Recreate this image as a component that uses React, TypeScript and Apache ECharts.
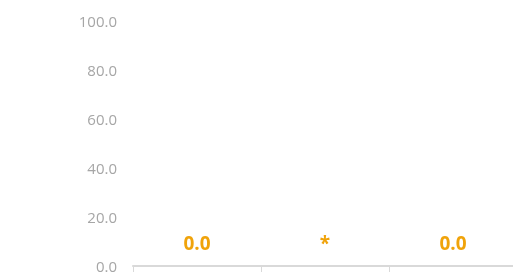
import React, { useEffect, useRef } from "react";
import * as echarts from "echarts";

const categories = ["A", "B", "C"];
const values: (number | null)[] = [0, null, 0];
const yTicks = { min: 0, max: 100, interval: 20 };
const missingLabel = "*";

export default function App() {
  const ref = useRef<HTMLDivElement>(null);
  useEffect(() => {
    if (!ref.current) return;
    const chart = echarts.init(ref.current, null, { renderer: "svg" });
    const labelStyle = {
      show: true,
      position: "top" as const,
      distance: 14,
      color: "#F0A30A",
      fontWeight: "bold" as const,
      fontSize: 19,
      fontFamily: "Open Sans",
    };
    chart.setOption({
      animation: false,
      grid: { left: 133, top: 21, width: 384, height: 245 },
      xAxis: {
        type: "category",
        data: categories,
        axisLine: { show: true, lineStyle: { color: "#d9d9d9", width: 2 } },
        axisTick: { show: true, length: 6, lineStyle: { color: "#d9d9d9", width: 1 } },
        axisLabel: { show: false },
        splitLine: { show: false },
      },
      yAxis: {
        type: "value",
        min: yTicks.min,
        max: yTicks.max,
        interval: yTicks.interval,
        axisLine: { show: false },
        axisTick: { show: false },
        splitLine: { show: false },
        axisLabel: {
          margin: 16,
          color: "#a6a6a6",
          fontSize: 15,
          fontFamily: "Open Sans",
          formatter: (v: number) => v.toFixed(1),
        },
      },
      series: [
        {
          type: "bar",
          barWidth: "60%",
          itemStyle: { color: "#F0A30A" },
          label: {
            ...labelStyle,
            formatter: (p: any) => Number(p.value).toFixed(1),
          },
          data: values.map((v) =>
            v == null
              ? { value: 0, label: { ...labelStyle, formatter: missingLabel } }
              : v
          ),
        },
      ],
    });
    return () => chart.dispose();
  }, []);
  return (
    <div
      ref={ref}
      style={{ position: "fixed", left: 0, top: 0, width: 530, height: 278 }}
    />
  );
}
